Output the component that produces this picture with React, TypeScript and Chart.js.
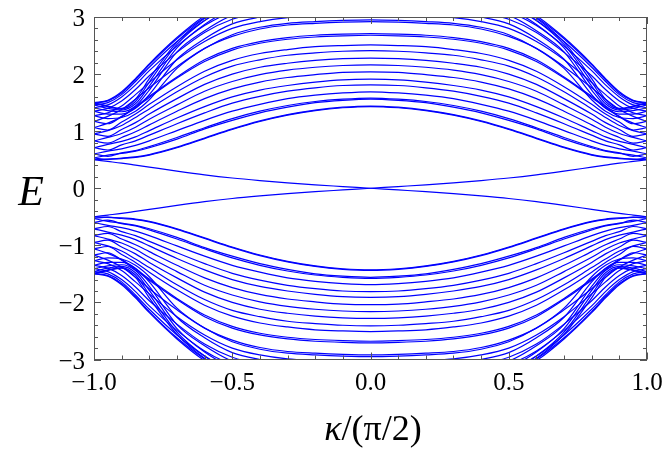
import React, { useEffect, useRef } from 'react';
import { Chart, registerables } from 'chart.js';

Chart.register(...registerables);

const W = 664;
const H = 449;
const SERIF = '"Liberation Serif", "Times New Roman", Times, serif';
const LINE = '#0000ff';
const FRAME = '#555555';

// kappa / (pi/2) sample positions
const kappa = [-1, -0.95, -0.9, -0.85, -0.8, -0.7, -0.6, -0.5, -0.4, -0.3, -0.2, -0.1, 0, 0.1, 0.2, 0.3, 0.4, 0.5, 0.6, 0.7, 0.8, 0.85, 0.9, 0.95, 1];

const xTickValues = [-1, -0.5, 0, 0.5, 1];
const xTickLabels = ['\u22121.0', '\u22120.5', '0.0', '0.5', '1.0'];
const yTickValues = [-3, -2, -1, 0, 1, 2, 3];
const yTickLabels = ['\u22123', '\u22122', '\u22121', '0', '1', '2', '3'];

// upper bulk bands E > 0
const upperBands: number[][] = [
  [0.50,0.51,0.52,0.54,0.58,0.71,0.87,1.03,1.17,1.28,1.36,1.41,1.43,1.41,1.36,1.28,1.17,1.03,0.87,0.71,0.58,0.54,0.52,0.51,0.50],
  [0.53,0.505,0.53,0.55,0.59,0.72,0.88,1.04,1.18,1.29,1.37,1.42,1.44,1.42,1.37,1.29,1.18,1.04,0.88,0.72,0.59,0.55,0.53,0.505,0.53],
  [0.53,0.58,0.61,0.65,0.71,0.86,1.04,1.19,1.32,1.42,1.50,1.54,1.56,1.54,1.50,1.42,1.32,1.19,1.04,0.86,0.71,0.65,0.61,0.58,0.53],
  [0.60,0.56,0.62,0.66,0.73,0.89,1.06,1.22,1.35,1.45,1.52,1.56,1.58,1.56,1.52,1.45,1.35,1.22,1.06,0.89,0.73,0.66,0.62,0.56,0.60],
  [0.60,0.65,0.69,0.75,0.83,1.01,1.19,1.35,1.47,1.57,1.63,1.67,1.69,1.67,1.63,1.57,1.47,1.35,1.19,1.01,0.83,0.75,0.69,0.65,0.60],
  [0.71,0.67,0.76,0.83,0.93,1.13,1.32,1.49,1.61,1.70,1.76,1.80,1.81,1.80,1.76,1.70,1.61,1.49,1.32,1.13,0.93,0.83,0.76,0.67,0.71],
  [0.71,0.77,0.82,0.90,1.01,1.23,1.43,1.60,1.72,1.80,1.86,1.90,1.91,1.90,1.86,1.80,1.72,1.60,1.43,1.23,1.01,0.90,0.82,0.77,0.71],
  [0.83,0.79,0.89,0.99,1.11,1.35,1.57,1.74,1.86,1.94,1.99,2.03,2.04,2.03,1.99,1.94,1.86,1.74,1.57,1.35,1.11,0.99,0.89,0.79,0.83],
  [0.83,0.89,0.96,1.07,1.21,1.46,1.70,1.87,1.99,2.07,2.12,2.15,2.16,2.15,2.12,2.07,1.99,1.87,1.70,1.46,1.21,1.07,0.96,0.89,0.83],
  [0.95,0.91,1.03,1.15,1.30,1.57,1.82,2.00,2.12,2.19,2.24,2.27,2.28,2.27,2.24,2.19,2.12,2.00,1.82,1.57,1.30,1.15,1.03,0.91,0.95],
  [0.95,1.01,1.10,1.24,1.39,1.69,1.95,2.14,2.25,2.33,2.37,2.40,2.41,2.40,2.37,2.33,2.25,2.14,1.95,1.69,1.39,1.24,1.10,1.01,0.95],
  [1.06,1.02,1.16,1.30,1.47,1.78,2.05,2.24,2.36,2.43,2.48,2.50,2.51,2.50,2.48,2.43,2.36,2.24,2.05,1.78,1.47,1.30,1.16,1.02,1.06],
  [1.06,1.14,1.25,1.41,1.59,1.93,2.22,2.42,2.54,2.61,2.65,2.67,2.68,2.67,2.65,2.61,2.54,2.42,2.22,1.93,1.59,1.41,1.25,1.14,1.06],
  [1.17,1.13,1.26,1.43,1.61,1.95,2.25,2.45,2.57,2.64,2.68,2.70,2.71,2.70,2.68,2.64,2.57,2.45,2.25,1.95,1.61,1.43,1.26,1.13,1.17],
  [1.17,1.26,1.38,1.56,1.76,2.13,2.45,2.66,2.79,2.86,2.89,2.91,2.92,2.91,2.89,2.86,2.79,2.66,2.45,2.13,1.76,1.56,1.38,1.26,1.17],
  [1.27,1.22,1.24,1.35,1.55,2.10,2.45,2.69,2.82,2.89,2.92,2.94,2.95,2.94,2.92,2.89,2.82,2.69,2.45,2.10,1.55,1.35,1.24,1.22,1.27],
  [1.27,1.32,1.44,1.64,1.85,2.25,2.57,2.80,2.92,2.99,3.02,3.04,3.05,3.04,3.02,2.99,2.92,2.80,2.57,2.25,1.85,1.64,1.44,1.32,1.27],
  [1.35,1.30,1.30,1.40,1.64,2.26,2.62,2.88,3.00,3.07,3.11,3.12,3.13,3.12,3.11,3.07,3.00,2.88,2.62,2.26,1.64,1.40,1.30,1.30,1.35],
  [1.35,1.40,1.53,1.73,1.97,2.38,2.73,2.96,3.08,3.15,3.19,3.20,3.21,3.20,3.19,3.15,3.08,2.96,2.73,2.38,1.97,1.73,1.53,1.40,1.35],
  [1.41,1.36,1.34,1.44,1.72,2.39,2.76,3.03,3.16,3.23,3.26,3.27,3.28,3.27,3.26,3.23,3.16,3.03,2.76,2.39,1.72,1.44,1.34,1.36,1.41],
  [1.41,1.46,1.60,1.81,2.06,2.49,2.85,3.09,3.22,3.29,3.32,3.33,3.34,3.33,3.32,3.29,3.22,3.09,2.85,2.49,2.06,1.81,1.60,1.46,1.41],
  [1.46,1.40,1.37,1.48,1.79,2.46,2.87,3.14,3.27,3.34,3.37,3.39,3.39,3.39,3.37,3.34,3.27,3.14,2.87,2.46,1.79,1.48,1.37,1.40,1.46],
  [1.46,1.50,1.64,1.87,2.12,2.57,2.94,3.18,3.31,3.38,3.41,3.43,3.43,3.43,3.41,3.38,3.31,3.18,2.94,2.57,2.12,1.87,1.64,1.50,1.46],
  [1.49,1.43,1.39,1.52,1.86,2.52,2.94,3.22,3.35,3.42,3.45,3.47,3.47,3.47,3.45,3.42,3.35,3.22,2.94,2.52,1.86,1.52,1.39,1.43,1.49],
  [1.49,1.53,1.67,1.90,2.16,2.62,2.99,3.24,3.37,3.44,3.47,3.49,3.49,3.49,3.47,3.44,3.37,3.24,2.99,2.62,2.16,1.90,1.67,1.53,1.49],
  [1.50,1.44,1.40,1.56,1.92,2.56,2.98,3.26,3.39,3.46,3.49,3.51,3.51,3.51,3.49,3.46,3.39,3.26,2.98,2.56,1.92,1.56,1.40,1.44,1.50],
  [1.50,1.54,1.69,1.92,2.18,2.64,3.02,3.27,3.40,3.47,3.50,3.52,3.52,3.52,3.50,3.47,3.40,3.27,3.02,2.64,2.18,1.92,1.69,1.54,1.50],
];

// lower bulk bands E < 0
const lowerBands: number[][] = [
  [-0.50,-0.51,-0.52,-0.54,-0.58,-0.71,-0.87,-1.03,-1.17,-1.28,-1.36,-1.41,-1.43,-1.41,-1.36,-1.28,-1.17,-1.03,-0.87,-0.71,-0.58,-0.54,-0.52,-0.51,-0.50],
  [-0.53,-0.505,-0.53,-0.55,-0.59,-0.72,-0.88,-1.04,-1.18,-1.29,-1.37,-1.42,-1.44,-1.42,-1.37,-1.29,-1.18,-1.04,-0.88,-0.72,-0.59,-0.55,-0.53,-0.505,-0.53],
  [-0.53,-0.58,-0.61,-0.65,-0.71,-0.86,-1.04,-1.19,-1.32,-1.42,-1.50,-1.54,-1.56,-1.54,-1.50,-1.42,-1.32,-1.19,-1.04,-0.86,-0.71,-0.65,-0.61,-0.58,-0.53],
  [-0.60,-0.56,-0.62,-0.66,-0.73,-0.89,-1.06,-1.22,-1.35,-1.45,-1.52,-1.56,-1.58,-1.56,-1.52,-1.45,-1.35,-1.22,-1.06,-0.89,-0.73,-0.66,-0.62,-0.56,-0.60],
  [-0.60,-0.65,-0.69,-0.75,-0.83,-1.01,-1.19,-1.35,-1.47,-1.57,-1.63,-1.67,-1.69,-1.67,-1.63,-1.57,-1.47,-1.35,-1.19,-1.01,-0.83,-0.75,-0.69,-0.65,-0.60],
  [-0.71,-0.67,-0.76,-0.83,-0.93,-1.13,-1.32,-1.49,-1.61,-1.70,-1.76,-1.80,-1.81,-1.80,-1.76,-1.70,-1.61,-1.49,-1.32,-1.13,-0.93,-0.83,-0.76,-0.67,-0.71],
  [-0.71,-0.77,-0.82,-0.90,-1.01,-1.23,-1.43,-1.60,-1.72,-1.80,-1.86,-1.90,-1.91,-1.90,-1.86,-1.80,-1.72,-1.60,-1.43,-1.23,-1.01,-0.90,-0.82,-0.77,-0.71],
  [-0.83,-0.79,-0.89,-0.99,-1.11,-1.35,-1.57,-1.74,-1.86,-1.94,-1.99,-2.03,-2.04,-2.03,-1.99,-1.94,-1.86,-1.74,-1.57,-1.35,-1.11,-0.99,-0.89,-0.79,-0.83],
  [-0.83,-0.89,-0.96,-1.07,-1.21,-1.46,-1.70,-1.87,-1.99,-2.07,-2.12,-2.15,-2.16,-2.15,-2.12,-2.07,-1.99,-1.87,-1.70,-1.46,-1.21,-1.07,-0.96,-0.89,-0.83],
  [-0.95,-0.91,-1.03,-1.15,-1.30,-1.57,-1.82,-2.00,-2.12,-2.19,-2.24,-2.27,-2.28,-2.27,-2.24,-2.19,-2.12,-2.00,-1.82,-1.57,-1.30,-1.15,-1.03,-0.91,-0.95],
  [-0.95,-1.01,-1.10,-1.24,-1.39,-1.69,-1.95,-2.14,-2.25,-2.33,-2.37,-2.40,-2.41,-2.40,-2.37,-2.33,-2.25,-2.14,-1.95,-1.69,-1.39,-1.24,-1.10,-1.01,-0.95],
  [-1.06,-1.02,-1.16,-1.30,-1.47,-1.78,-2.05,-2.24,-2.36,-2.43,-2.48,-2.50,-2.51,-2.50,-2.48,-2.43,-2.36,-2.24,-2.05,-1.78,-1.47,-1.30,-1.16,-1.02,-1.06],
  [-1.06,-1.14,-1.25,-1.41,-1.59,-1.93,-2.22,-2.42,-2.54,-2.61,-2.65,-2.67,-2.68,-2.67,-2.65,-2.61,-2.54,-2.42,-2.22,-1.93,-1.59,-1.41,-1.25,-1.14,-1.06],
  [-1.17,-1.13,-1.26,-1.43,-1.61,-1.95,-2.25,-2.45,-2.57,-2.64,-2.68,-2.70,-2.71,-2.70,-2.68,-2.64,-2.57,-2.45,-2.25,-1.95,-1.61,-1.43,-1.26,-1.13,-1.17],
  [-1.17,-1.26,-1.38,-1.56,-1.76,-2.13,-2.45,-2.66,-2.79,-2.86,-2.89,-2.91,-2.92,-2.91,-2.89,-2.86,-2.79,-2.66,-2.45,-2.13,-1.76,-1.56,-1.38,-1.26,-1.17],
  [-1.27,-1.22,-1.24,-1.35,-1.55,-2.10,-2.45,-2.69,-2.82,-2.89,-2.92,-2.94,-2.95,-2.94,-2.92,-2.89,-2.82,-2.69,-2.45,-2.10,-1.55,-1.35,-1.24,-1.22,-1.27],
  [-1.27,-1.32,-1.44,-1.64,-1.85,-2.25,-2.57,-2.80,-2.92,-2.99,-3.02,-3.04,-3.05,-3.04,-3.02,-2.99,-2.92,-2.80,-2.57,-2.25,-1.85,-1.64,-1.44,-1.32,-1.27],
  [-1.35,-1.30,-1.30,-1.40,-1.64,-2.26,-2.62,-2.88,-3.00,-3.07,-3.11,-3.12,-3.13,-3.12,-3.11,-3.07,-3.00,-2.88,-2.62,-2.26,-1.64,-1.40,-1.30,-1.30,-1.35],
  [-1.35,-1.40,-1.53,-1.73,-1.97,-2.38,-2.73,-2.96,-3.08,-3.15,-3.19,-3.20,-3.21,-3.20,-3.19,-3.15,-3.08,-2.96,-2.73,-2.38,-1.97,-1.73,-1.53,-1.40,-1.35],
  [-1.41,-1.36,-1.34,-1.44,-1.72,-2.39,-2.76,-3.03,-3.16,-3.23,-3.26,-3.27,-3.28,-3.27,-3.26,-3.23,-3.16,-3.03,-2.76,-2.39,-1.72,-1.44,-1.34,-1.36,-1.41],
  [-1.41,-1.46,-1.60,-1.81,-2.06,-2.49,-2.85,-3.09,-3.22,-3.29,-3.32,-3.33,-3.34,-3.33,-3.32,-3.29,-3.22,-3.09,-2.85,-2.49,-2.06,-1.81,-1.60,-1.46,-1.41],
  [-1.46,-1.40,-1.37,-1.48,-1.79,-2.46,-2.87,-3.14,-3.27,-3.34,-3.37,-3.39,-3.39,-3.39,-3.37,-3.34,-3.27,-3.14,-2.87,-2.46,-1.79,-1.48,-1.37,-1.40,-1.46],
  [-1.46,-1.50,-1.64,-1.87,-2.12,-2.57,-2.94,-3.18,-3.31,-3.38,-3.41,-3.43,-3.43,-3.43,-3.41,-3.38,-3.31,-3.18,-2.94,-2.57,-2.12,-1.87,-1.64,-1.50,-1.46],
  [-1.49,-1.43,-1.39,-1.52,-1.86,-2.52,-2.94,-3.22,-3.35,-3.42,-3.45,-3.47,-3.47,-3.47,-3.45,-3.42,-3.35,-3.22,-2.94,-2.52,-1.86,-1.52,-1.39,-1.43,-1.49],
  [-1.49,-1.53,-1.67,-1.90,-2.16,-2.62,-2.99,-3.24,-3.37,-3.44,-3.47,-3.49,-3.49,-3.49,-3.47,-3.44,-3.37,-3.24,-2.99,-2.62,-2.16,-1.90,-1.67,-1.53,-1.49],
  [-1.50,-1.44,-1.40,-1.56,-1.92,-2.56,-2.98,-3.26,-3.39,-3.46,-3.49,-3.51,-3.51,-3.51,-3.49,-3.46,-3.39,-3.26,-2.98,-2.56,-1.92,-1.56,-1.40,-1.44,-1.50],
  [-1.50,-1.54,-1.69,-1.92,-2.18,-2.64,-3.02,-3.27,-3.40,-3.47,-3.50,-3.52,-3.52,-3.52,-3.50,-3.47,-3.40,-3.27,-3.02,-2.64,-2.18,-1.92,-1.69,-1.54,-1.50],
];

// in-gap edge states
const edgeFalling = [0.50,0.47,0.44,0.405,0.37,0.30,0.235,0.18,0.135,0.095,0.06,0.03,0,-0.03,-0.06,-0.095,-0.135,-0.18,-0.235,-0.30,-0.37,-0.405,-0.44,-0.47,-0.50];
const edgeRising = [-0.50,-0.47,-0.44,-0.405,-0.37,-0.30,-0.235,-0.18,-0.135,-0.095,-0.06,-0.03,0,0.03,0.06,0.095,0.135,0.18,0.235,0.30,0.37,0.405,0.44,0.47,0.50];

const PLOT = { left: 94, right: 647, top: 17, bottom: 359.5 };

const framePlugin = {
  id: 'mmaFrame',
  afterDraw(chart: any) {
    const { ctx, chartArea: a, scales } = chart;
    const xs = scales.x;
    const ys = scales.y;
    ctx.save();
    ctx.strokeStyle = FRAME;
    ctx.lineWidth = 1;
    ctx.strokeRect(Math.round(a.left) + 0.5, Math.round(a.top) + 0.5, Math.round(a.right - a.left) - 1, Math.round(a.bottom - a.top) - 1);
    for (let i = -10; i <= 10; i++) {
      const v = i / 10;
      const px = Math.round(xs.getPixelForValue(v)) + 0.5;
      const len = i % 5 === 0 ? 7 : 4;
      ctx.beginPath();
      ctx.moveTo(px, a.bottom);
      ctx.lineTo(px, a.bottom - len);
      ctx.moveTo(px, a.top);
      ctx.lineTo(px, a.top + len);
      ctx.stroke();
    }
    for (let j = -15; j <= 15; j++) {
      const v = j / 5;
      const py = Math.round(ys.getPixelForValue(v)) + 0.5;
      const len = j % 5 === 0 ? 7 : 4;
      ctx.beginPath();
      ctx.moveTo(a.left, py);
      ctx.lineTo(a.left + len, py);
      ctx.moveTo(a.right, py);
      ctx.lineTo(a.right - len, py);
      ctx.stroke();
    }
    ctx.fillStyle = '#000';
    ctx.font = `25px ${SERIF}`;
    ctx.textAlign = 'center';
    ctx.textBaseline = 'alphabetic';
    xTickValues.forEach((v, i) => {
      ctx.fillText(xTickLabels[i], xs.getPixelForValue(v), 390);
    });
    ctx.textAlign = 'right';
    yTickValues.forEach((v, i) => {
      ctx.fillText(yTickLabels[i], a.left - 9, ys.getPixelForValue(v) + 9);
    });
    ctx.font = `italic 42px ${SERIF}`;
    ctx.textAlign = 'center';
    ctx.fillText('E', 31, 205);
    const cx = 373;
    const base = 440;
    ctx.font = `italic 36px ${SERIF}`;
    const k = '\u03ba';
    const kW = ctx.measureText(k).width;
    ctx.font = `36px ${SERIF}`;
    const rest = '/(\u03c0/2)';
    const rW = ctx.measureText(rest).width;
    const start = cx - (kW + rW) / 2;
    ctx.textAlign = 'left';
    ctx.font = `italic 36px ${SERIF}`;
    ctx.fillText(k, start, base);
    ctx.font = `36px ${SERIF}`;
    ctx.fillText(rest, start + kW, base);
    ctx.restore();
  },
};

export default function App() {
  const ref = useRef<HTMLCanvasElement | null>(null);
  useEffect(() => {
    if (!ref.current) return;
    const curves = [...upperBands, ...lowerBands, edgeFalling, edgeRising];
    const datasets = curves.map((ys) => ({
      data: kappa.map((x, i) => ({ x, y: ys[i] })),
      showLine: true,
      borderColor: LINE,
      borderWidth: 1.2,
      pointRadius: 0,
      pointHoverRadius: 0,
      cubicInterpolationMode: 'monotone' as const,
      fill: false,
    }));
    const chart = new Chart(ref.current, {
      type: 'scatter',
      data: { datasets },
      options: {
        animation: false,
        responsive: false,
        devicePixelRatio: 1,
        events: [],
        layout: { padding: { top: PLOT.top, right: W - PLOT.right, left: 0, bottom: 0 } },
        plugins: { legend: { display: false }, tooltip: { enabled: false } },
        scales: {
          x: {
            type: 'linear',
            min: -1,
            max: 1,
            grid: { display: false },
            border: { display: false },
            ticks: { display: false },
            afterFit: (s: any) => { s.height = H - PLOT.bottom; },
          },
          y: {
            type: 'linear',
            min: -3,
            max: 3,
            grid: { display: false },
            border: { display: false },
            ticks: { display: false },
            afterFit: (s: any) => { s.width = PLOT.left; },
          },
        },
      },
      plugins: [framePlugin],
    });
    return () => chart.destroy();
  }, []);
  return (
    <div style={{ position: 'fixed', left: 0, top: 0, width: W, height: H, background: '#fff' }}>
      <canvas ref={ref} width={W} height={H} style={{ display: 'block' }} />
    </div>
  );
}
